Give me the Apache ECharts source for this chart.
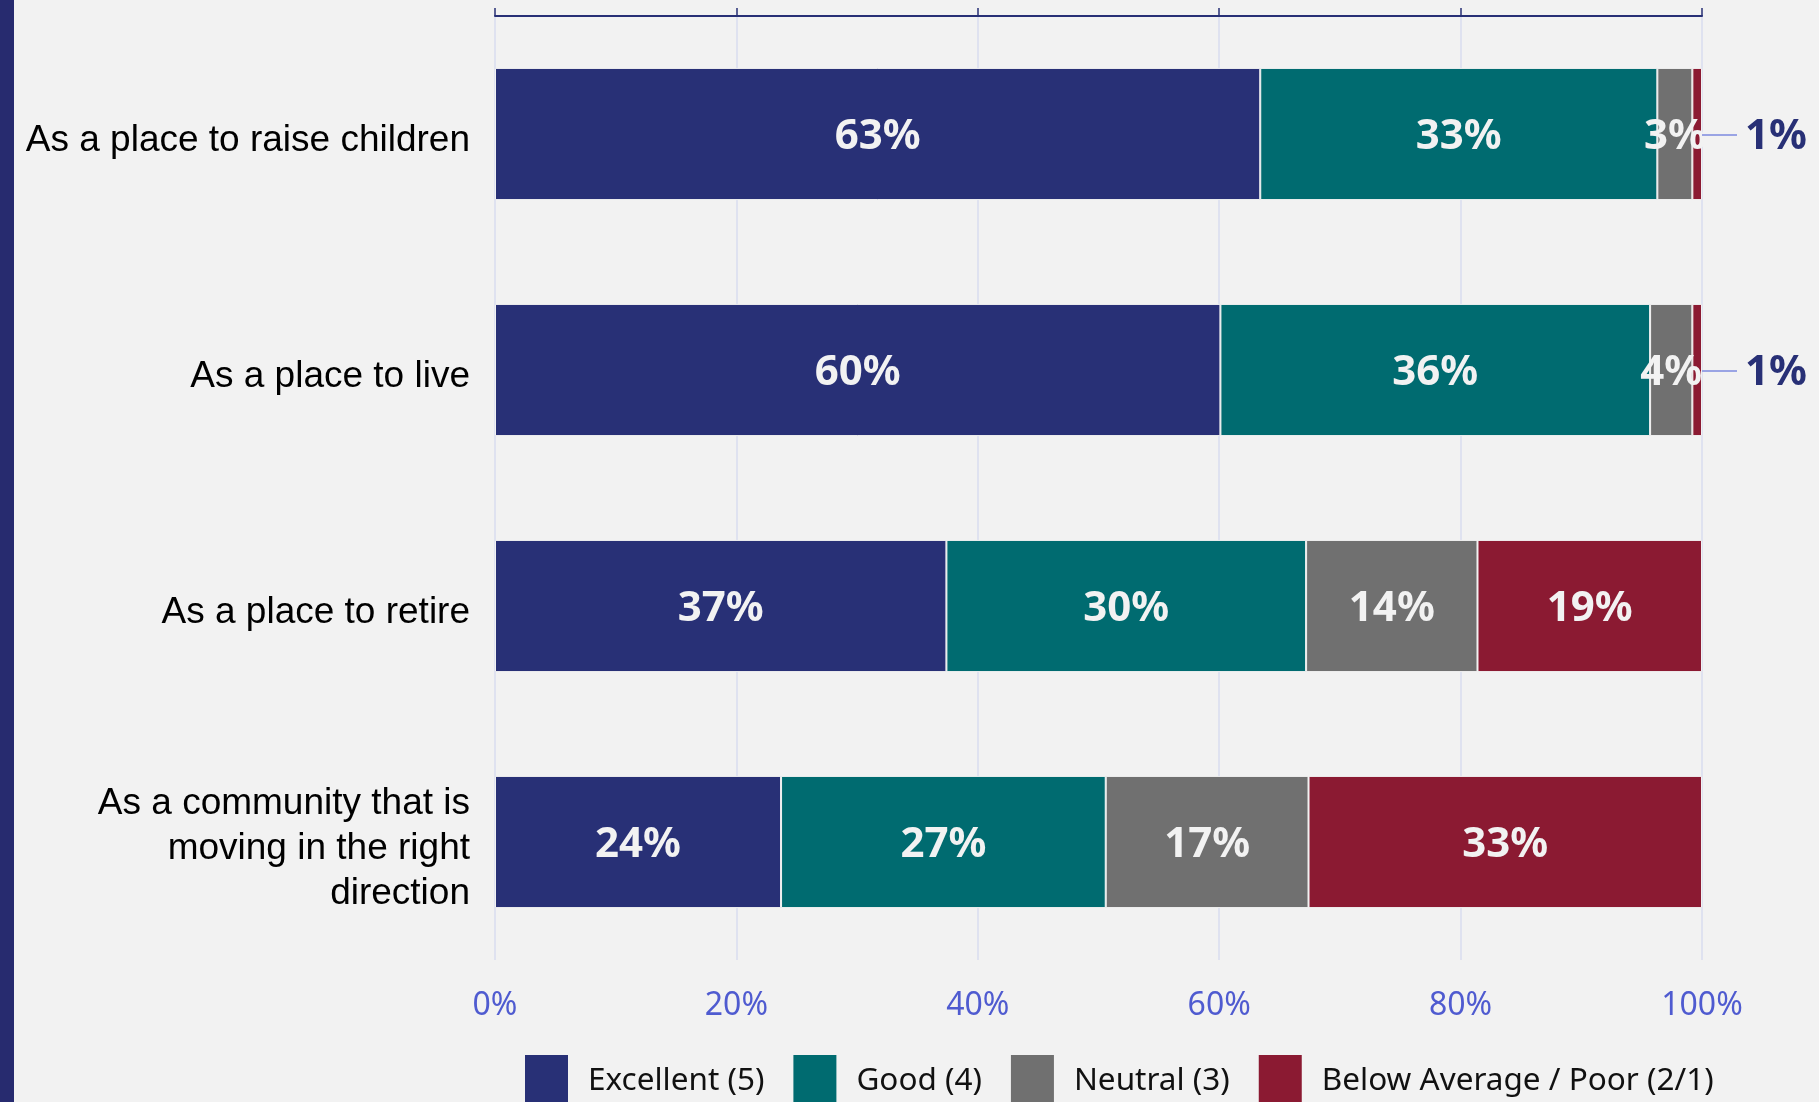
<!DOCTYPE html>
<html>
<head>
<meta charset="utf-8">
<script src="https://cdn.jsdelivr.net/npm/echarts@6/dist/echarts.min.js"></script>
<style>
  html, body { margin: 0; padding: 0; background: #f2f2f2; }
  #chart { width: 1819px; height: 1102px; }
</style>
</head>
<body>
<div id="chart"></div>
<script>
// categories, top to bottom
var categories = [
  'As a place to raise children',
  'As a place to live',
  'As a place to retire',
  'As a community that is\nmoving in the right\ndirection'
];
var seriesNames = ['Excellent (5)', 'Good (4)', 'Neutral (3)', 'Below Average / Poor (2/1)'];
// shares in percent
var excellent = [63.4, 60.1, 37.4, 23.7];
var good = [32.9, 35.6, 29.8, 26.9];
var neutral = [2.9, 3.5, 14.2, 16.8];
var poor = [0.8, 0.8, 18.6, 32.6];
var tickValues = [0, 20, 40, 60, 80, 100];

var colors = ['#283076', '#006b70', '#707070', '#8b1a32'];

var myChart = echarts.init(document.getElementById('chart'));

var insideLabel = {
  show: true,
  position: 'inside',
  offset: [0, 3],
  color: '#f2f2f2',
  fontFamily: 'Noto Sans',
  fontWeight: 'bold',
  fontSize: 42,
  formatter: function (p) { return Math.round(p.value) + '%'; }
};

// small slices get their label outside with a short leader line
function poorData () {
  return poor.map(function (v) {
    if (v >= 2) return v;
    return {
      value: v,
      label: {
        show: true,
        position: 'right',
        distance: 0,
        offset: [0, 1],
        formatter: function (p) { return '{ln|}{v|' + Math.round(p.value) + '%}'; },
        rich: {
          ln: { width: 35, height: 2, backgroundColor: '#9aa4e4' },
          v: { color: '#283076', fontFamily: 'Noto Sans', fontWeight: 'bold', fontSize: 42, padding: [4, 0, 0, 8] }
        }
      }
    };
  });
}

var allData = [excellent, good, neutral, poorData()];

myChart.setOption({
  backgroundColor: '#f2f2f2',
  animation: false,
  color: colors,
  graphic: [{
    type: 'rect',
    left: 0, top: 0,
    shape: { width: 14, height: 1102 },
    style: { fill: '#272b6f' }
  }],
  grid: { left: 495, right: 117, top: 16, bottom: 142, containLabel: false },
  legend: {
    left: 520,
    top: 1050,
    itemWidth: 43,
    itemHeight: 52,
    itemGap: 29,
    icon: 'rect',
    itemStyle: { borderWidth: 0 },
    textStyle: { fontFamily: 'Noto Sans', fontSize: 31.5, color: '#111111', padding: [0, 0, 0, 15] },
    data: seriesNames
  },
  xAxis: [
    {
      type: 'value',
      position: 'bottom',
      min: tickValues[0],
      max: tickValues[tickValues.length - 1],
      interval: 20,
      axisLine: { show: false },
      axisTick: { show: false },
      axisLabel: {
        margin: 30,
        color: '#4f5bd0',
        fontFamily: 'Noto Sans',
        fontSize: 32,
        formatter: '{value}%'
      },
      splitLine: { show: true, lineStyle: { color: '#d9dcef', width: 1.5 } }
    },
    {
      type: 'value',
      position: 'top',
      min: tickValues[0],
      max: tickValues[tickValues.length - 1],
      interval: 20,
      axisLine: { show: true, lineStyle: { color: '#283076', width: 2 } },
      axisTick: { show: true, length: 8, lineStyle: { color: '#283076', width: 1.5 } },
      axisLabel: { show: false },
      splitLine: { show: false }
    }
  ],
  yAxis: {
    type: 'category',
    inverse: true,
    data: categories,
    axisLine: { show: false },
    axisTick: { show: false },
    axisLabel: {
      margin: 25,
      align: 'right',
      // small empty line on top pushes the text a little below the bar centre
      formatter: function (v) {
        return '{s| }\n' + v.split('\n').map(function (s) { return '{t|' + s + '}'; }).join('\n');
      },
      rich: {
        s: { height: 14, lineHeight: 14, fontSize: 10 },
        t: { color: '#000000', fontFamily: 'Liberation Sans', fontSize: 37, lineHeight: 45 }
      }
    }
  },
  series: seriesNames.map(function (name, i) {
    return {
      name: name,
      type: 'bar',
      stack: 'total',
      xAxisIndex: 0,
      barWidth: '56%',
      itemStyle: { borderColor: '#f2f2f2', borderWidth: 1 },
      label: insideLabel,
      data: allData[i]
    };
  })
});
</script>
</body>
</html>
